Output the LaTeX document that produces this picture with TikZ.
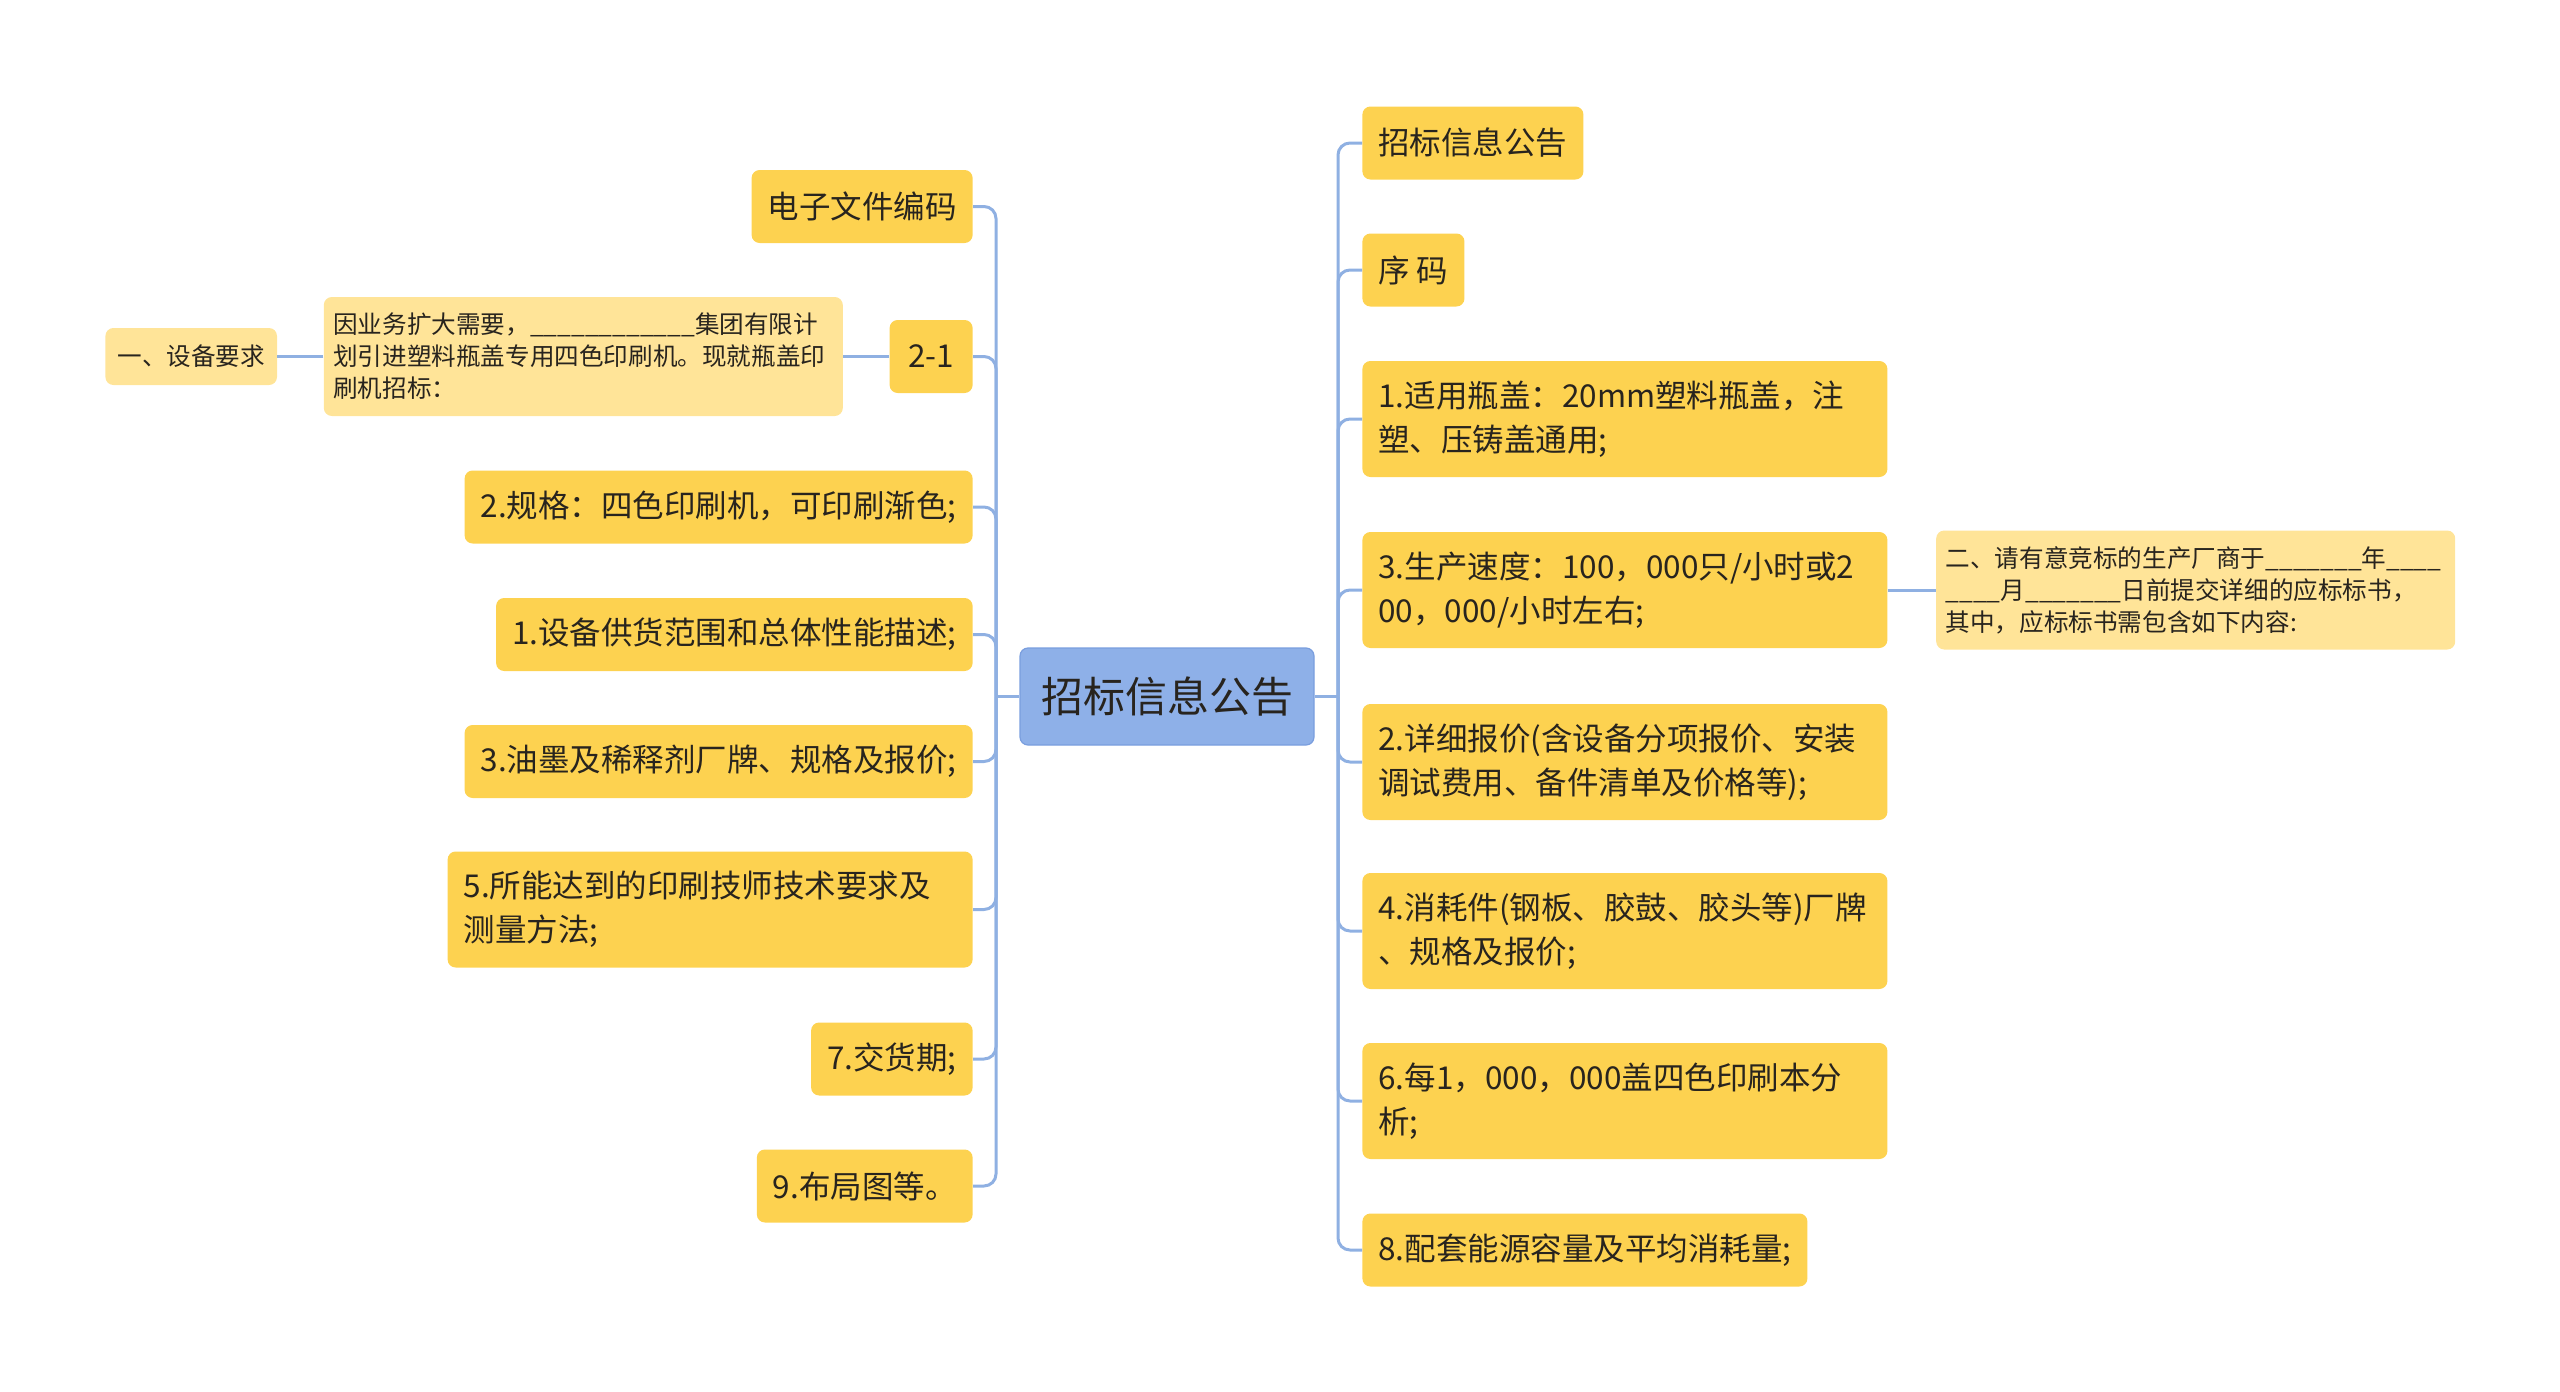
\documentclass[tikz,border=0pt]{standalone}
\usepackage{fontspec}
\setmainfont{Noto Sans CJK SC}
\usetikzlibrary{positioning}

\definecolor{topicyellow}{RGB}{253,210,80}
\definecolor{noteyellow}{RGB}{255,228,152}
\definecolor{rootblue}{RGB}{142,176,232}
\definecolor{rootedge}{RGB}{122,158,222}
\definecolor{linkblue}{RGB}{143,176,226}
\definecolor{textdark}{RGB}{40,36,30}

\begin{document}
\begin{tikzpicture}[x=0.5pt, y=-0.5pt,
    topic/.style={rectangle, fill=topicyellow, text=textdark, rounded corners=4pt,
                font=\fontsize{15.75}{22}\selectfont, inner xsep=8pt, inner ysep=0pt,
                minimum height=36.5pt},
    widetopic/.style={topic, text width=246.5pt, align=left, minimum height=58pt},
    note/.style={rectangle, fill=noteyellow, text=textdark, rounded corners=4pt,
                font=\fontsize{12.3}{16}\selectfont, inner xsep=4.75pt, inner ysep=0pt,
                text width=250pt, align=left, minimum height=59.5pt},
    smallnote/.style={note, text width={}, align=center, inner xsep=6pt, minimum height=28.5pt},
    root/.style={rectangle, fill=rootblue, draw=rootedge, line width=0.6pt, text=textdark,
                rounded corners=4pt, font=\fontsize{21}{26}\selectfont,
                minimum width=147pt, minimum height=48.5pt},
    link/.style={draw=linkblue, line width=1.5pt, rounded corners=6pt}]

    \useasboundingbox (0,0) rectangle (2560,1392);

    \node[root] (root) at (1167,696.5) {招标信息公告};
    \coordinate (lj) at (996,696.5);
    \coordinate (rj) at (1338,696.5);

    % left side
    \node[topic, anchor=east] (code) at (973,206.5) {电子文件编码};
    \node[topic, anchor=east, minimum width=41.5pt] (twoone) at (973,356.5) {2-1};
    \node[note, left=23pt of twoone] (intro) {因业务扩大需要，\_\_\_\_\_\_\_\_\_\_\_\_集团有限计\\划引进塑料瓶盖专用四色印刷机。现就瓶盖印\\刷机招标：};
    \node[smallnote, left=23pt of intro] (equip) {一、设备要求};
    \node[topic, anchor=east] (spec) at (973,507) {2.规格：四色印刷机，可印刷渐色;};
    \node[topic, anchor=east] (scope) at (973,634.5) {1.设备供货范围和总体性能描述;};
    \node[topic, anchor=east] (ink) at (973,761.5) {3.油墨及稀释剂厂牌、规格及报价;};
    \node[widetopic, anchor=east] (tech) at (973,909.5) {5.所能达到的印刷技师技术要求及\\测量方法;};
    \node[topic, anchor=east] (delivery) at (973,1059) {7.交货期;};
    \node[topic, anchor=east] (layout) at (973,1186) {9.布局图等。};

    % right side
    \node[topic, anchor=west] (title) at (1362,143) {招标信息公告};
    \node[topic, anchor=west] (serial) at (1362,270) {序 码};
    \node[widetopic, anchor=west] (capfit) at (1362,419) {1.适用瓶盖：20mm塑料瓶盖，注\\塑、压铸盖通用;};
    \node[widetopic, anchor=west] (speed) at (1362,590) {3.生产速度：100，000只/小时或2\\00，000/小时左右;};
    \node[note, right=24pt of speed] (bid) {二、请有意竞标的生产厂商于\_\_\_\_\_\_\_年\_\_\_\_\\\_\_\_\_月\_\_\_\_\_\_\_日前提交详细的应标标书，\\其中，应标标书需包含如下内容:};
    \node[widetopic, anchor=west] (quote) at (1362,762) {2.详细报价(含设备分项报价、安装\\调试费用、备件清单及价格等);};
    \node[widetopic, anchor=west] (parts) at (1362,931) {4.消耗件(钢板、胶鼓、胶头等)厂牌\\、规格及报价;};
    \node[widetopic, anchor=west] (cost) at (1362,1101) {6.每1，000，000盖四色印刷本分\\析;};
    \node[topic, anchor=west] (power) at (1362,1250) {8.配套能源容量及平均消耗量;};

    \draw[link] (root.west) -- (lj);
    \draw[link] (root.east) -- (rj);
    \foreach \n in {code, twoone, spec, scope, ink, tech, delivery, layout}
        \draw[link] (lj) |- (\n.east);
    \foreach \n in {title, serial, capfit, speed, quote, parts, cost, power}
        \draw[link] (rj) |- (\n.west);
    \draw[link] (twoone) -- (intro);
    \draw[link] (intro) -- (equip);
    \draw[link] (speed) -- (bid);
\end{tikzpicture}
\end{document}
